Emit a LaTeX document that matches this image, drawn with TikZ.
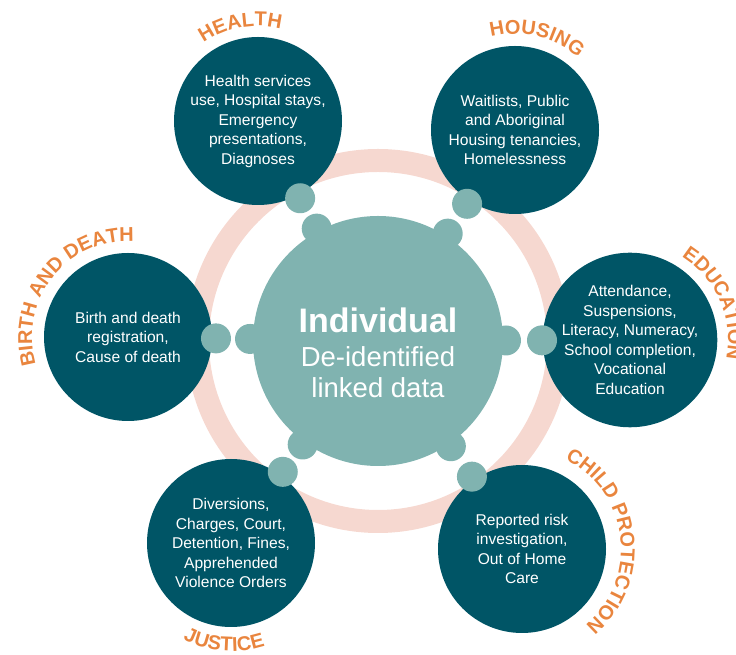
\documentclass[tikz,border=0pt]{standalone}
\usepackage{fontspec}
\setmainfont{Liberation Sans}
\usetikzlibrary{calc,decorations.text}

\definecolor{deepteal}{RGB}{0,85,102}
\definecolor{paleteal}{RGB}{128,179,176}
\definecolor{ringpink}{RGB}{246,216,208}
\definecolor{sectororange}{RGB}{233,133,62}

\newcommand{\sectorfont}{\fontsize{20}{20}\selectfont\bfseries}

\tikzset{
    source/.style={circle, fill=deepteal, minimum size=168pt, inner sep=0pt,
        text=white, align=center, font=\fontsize{15.6}{19.5}\selectfont},
    hubnode/.style={circle, fill=paleteal, minimum size=250pt, inner sep=0pt},
    link/.style={fill=paleteal},
    sector/.style={decorate, decoration={text along path, text align=center,
        text color=sectororange, text={|\sectorfont|#1}}}
}

\begin{document}
\begin{tikzpicture}[x=1pt, y=1pt]
        \useasboundingbox (0, 0) rectangle (736, 655);
        %\draw[color=lightgray, step=20] (0, 0) grid (736, 655);
        \coordinate (ctr) at (378, 314);
        \draw[ringpink, line width=23pt] (ctr) circle[radius=180.5];
        \node[hubnode] (hub) at (ctr) {};
        \node[source] (health) at (258, 534) {Health services\\use, Hospital stays,\\Emergency\\presentations,\\Diagnoses};
        \node[source] (housing) at (515, 525) {Waitlists, Public\\and Aboriginal\\Housing tenancies,\\Homelessness};
        \node[source] (education) at (630, 315) {Attendance,\\Suspensions,\\Literacy, Numeracy,\\School completion,\\Vocational\\Education};
        \node[source] (child) at (522, 106) {Reported risk\\investigation,\\Out of Home\\Care};
        \node[source] (justice) at (231, 112) {Diversions,\\Charges, Court,\\Detention, Fines,\\Apprehended\\Violence Orders};
        \node[source] (birth) at (128, 318) {Birth and death\\registration,\\Cause of death};
        \foreach \s in {health, housing, education, child, justice, birth} {
            \fill[link] ($(hub.center)!128pt!(\s.center)$) circle[radius=15];
            \fill[link] ($(\s.center)!88pt!(hub.center)$) circle[radius=15];
        }
        \node[text=white, align=center, font=\fontsize{27.5}{31}\selectfont] (hubtext) at (378, 302)
            {{\fontsize{34}{34}\selectfont\bfseries Individual}\\[3pt]De-identified\\linked data};
        % labels round the circles
        \path[sector=HEALTH] (health.center) ++(190.5:95) arc[start angle=190.5, end angle=10.5, radius=95];
        \path[sector=HOUSING] (housing.center) ++(166.7:96) arc[start angle=166.7, end angle=-13.3, radius=96];
        \path[sector=EDUCATION] (education.center) ++(113.5:98) arc[start angle=113.5, end angle=-66.5, radius=98];
        \path[sector=CHILD PROTECTION] (child.center) ++(97:99) arc[start angle=97, end angle=-83, radius=99];
        \path[sector=JUSTICE] (justice.center) ++(-184:108) arc[start angle=-184, end angle=-4, radius=108];
        \path[sector=BIRTH AND DEATH] (birth.center) ++(231.5:96) arc[start angle=231.5, end angle=51.5, radius=96];
\end{tikzpicture}
\end{document}
